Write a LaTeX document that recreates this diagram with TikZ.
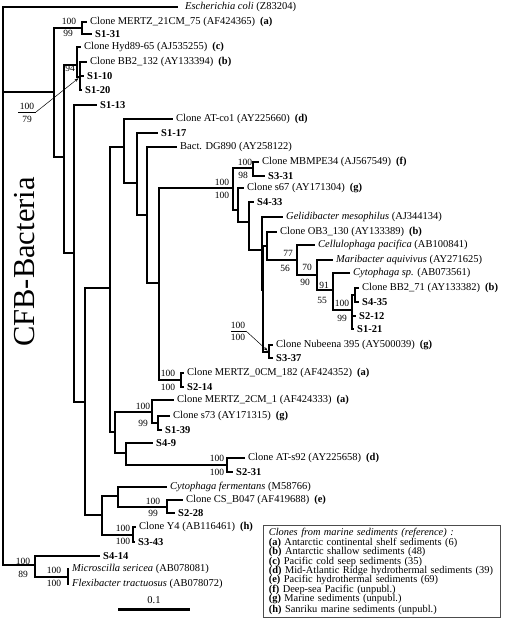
\documentclass[tikz,border=0pt]{standalone}
\usepackage{fontspec}
\setmainfont{Liberation Serif}
\usetikzlibrary{arrows.meta}

\newcommand{\srctag}[1]{\hspace{5pt}\textbf{(#1)}}

\begin{document}
\begin{tikzpicture}[
  x=1pt, y=-1pt,
  every node/.style={font=\fontsize{10.5}{12}\selectfont},
  br/.style={line width=1.25pt},
  leaf/.style={anchor=west, inner sep=3pt},
  smp/.style={leaf, font=\fontsize{10.5}{12}\selectfont\bfseries},
  bs/.style={inner sep=0pt, font=\fontsize{9.5}{10}\selectfont},
  ptr/.style={-{Stealth[length=4pt,width=3pt]}, line width=0.5pt, shorten >=2pt},
  legend/.style={draw=black!70, line width=0.8pt, anchor=north west, align=left,
    text width=226pt, minimum height=92pt, inner xsep=5.5pt, inner ysep=2pt,
    font=\fontsize{10.4}{9.4}\selectfont}
]
\useasboundingbox (0,0) rectangle (504,624);

% leaves
\node[leaf] (ecoli) at (178,7) {\hspace{4pt}\textit{Escherichia coli} (Z83204)};
\node[leaf] (mertz21) at (87,22) {Clone MERTZ\_21CM\_75 (AF424365)\srctag{a}};
\node[smp] (s131) at (92,34) {S1-31};
\node[leaf] (hyd) at (81,47) {Clone Hyd89-65 (AJ535255)\srctag{c}};
\node[leaf] (bb2132) at (87,62) {Clone BB2\_132 (AY133394)\srctag{b}};
\node[smp] (s110) at (84,76) {S1-10};
\node[smp] (s120) at (82,90) {S1-20};
\node[smp] (s113) at (97,105) {S1-13};
\node[leaf] (atco1) at (173,119) {Clone AT-co1 (AY225660)\srctag{d}};
\node[smp] (s117) at (158,133) {S1-17};
\node[leaf] (dg890) at (177,147) {Bact. DG890 (AY258122)};
\node[leaf] (mbmpe) at (259,162) {Clone MBMPE34 (AJ567549)\srctag{f}};
\node[smp] (s331) at (265,176) {S3-31};
\node[leaf] (s67) at (244,188) {Clone s67 (AY171304)\srctag{g}};
\node[smp] (s433) at (254,202) {S4-33};
\node[leaf] (gelid) at (283,217) {\textit{Gelidibacter mesophilus} (AJ344134)};
\node[leaf] (ob3) at (277,232) {Clone OB3\_130 (AY133389)\srctag{b}};
\node[leaf] (cellu) at (315,245) {\textit{Cellulophaga pacifica} (AB100841)};
\node[leaf] (mari) at (333,260) {\textit{Maribacter aquivivus} (AY271625)};
\node[leaf] (cytsp) at (350,273) {\textit{Cytophaga sp.} (AB073561)};
\node[leaf] (bb271) at (359,288) {Clone BB2\_71 (AY133382)\srctag{b}};
\node[smp] (s435) at (359,302) {S4-35};
\node[smp] (s212) at (356,316) {S2-12};
\node[smp] (s121) at (354,329) {S1-21};
\node[leaf] (nubeena) at (273,345) {Clone Nubeena 395 (AY500039)\srctag{g}};
\node[smp] (s337) at (273,358) {S3-37};
\node[leaf] (mertz0) at (184,373) {Clone MERTZ\_0CM\_182 (AF424352)\srctag{a}};
\node[smp] (s214) at (184,387) {S2-14};
\node[leaf] (mertz2) at (174,400) {Clone MERTZ\_2CM\_1 (AF424333)\srctag{a}};
\node[leaf] (s73) at (170,416) {Clone s73 (AY171315)\srctag{g}};
\node[smp] (s139) at (162,430) {S1-39};
\node[smp] (s49) at (153,443) {S4-9};
\node[leaf] (ats92) at (245,458) {Clone AT-s92 (AY225658)\srctag{d}};
\node[smp] (s231) at (233,472) {S2-31};
\node[leaf] (cferm) at (167,487) {\textit{Cytophaga fermentans} (M58766)};
\node[leaf] (csb) at (183,500) {Clone CS\_B047 (AF419688)\srctag{e}};
\node[smp] (s228) at (175,513) {S2-28};
\node[leaf] (y4) at (136,527) {Clone Y4 (AB116461)\srctag{h}};
\node[smp] (s343) at (135,542) {S3-43};
\node[smp] (s414) at (100,556) {S4-14};
\node[leaf] (micro) at (69,569) {\textit{Microscilla sericea} (AB078081)};
\node[leaf] (flexi) at (69,584) {\textit{Flexibacter tractuosus} (AB078072)};

% inner nodes
\coordinate (root) at (3,286);
\coordinate (cfb) at (54,92);
\coordinate (m21) at (82,28);
\coordinate (nd) at (64,157);
\coordinate (n94) at (77,65);
\coordinate (nsub) at (80,77);
\coordinate (na) at (74,253);
\coordinate (nb) at (85,402);
\coordinate (nx) at (110,288);
\coordinate (nr) at (124,147);
\coordinate (ns) at (137,183);
\coordinate (nt) at (147,215);
\coordinate (np) at (159,283);
\coordinate (nq) at (233,188);
\coordinate (nmb) at (253,168);
\coordinate (nz) at (238,210);
\coordinate (nz2) at (249,222);
\coordinate (nz3) at (262,250);
\coordinate (nz4) at (263,290);
\coordinate (no) at (267,246);
\coordinate (nc1) at (297,260);
\coordinate (nc2) at (317,275);
\coordinate (nc3) at (333,290);
\coordinate (nbb) at (352,310);
\coordinate (nbs) at (355,295);
\coordinate (nnub) at (269,352);
\coordinate (n0) at (181,380);
\coordinate (nu) at (115,432);
\coordinate (nv) at (152,412);
\coordinate (nw) at (158,423);
\coordinate (nw2) at (126,453);
\coordinate (nat) at (227,465);
\coordinate (ny) at (102,515);
\coordinate (nf) at (118,496);
\coordinate (ncs) at (167,507);
\coordinate (ny4) at (133,535);
\coordinate (nbot) at (35,565);
\coordinate (nmic) at (68,577);

% branches
\draw[br] (root) |- (ecoli.west) (root) |- (cfb) (root) |- (nbot);
\draw[br] (cfb) |- (m21) (cfb) |- (nd);
\draw[br] (m21) |- (mertz21.west) (m21) |- (s131.west);
\draw[br] (nd) |- (n94) (nd) |- (na);
\draw[br] (n94) |- (hyd.west) (n94) |- (nsub);
\draw[br] (nsub) |- (bb2132.west) (nsub) |- (s110.west) (nsub) |- (s120.west);
\draw[br] (na) |- (s113.west) (na) |- (nb);
\draw[br] (nb) |- (nx) (nb) |- (ny);
\draw[br] (nx) |- (nr) (nx) |- (nu);
\draw[br] (nr) |- (atco1.west) (nr) |- (ns);
\draw[br] (ns) |- (s117.west) (ns) |- (nt);
\draw[br] (nt) |- (dg890.west) (nt) |- (np);
\draw[br] (np) |- (nq) (np) |- (n0);
\draw[br] (nq) |- (nmb) (nq) |- (nz);
\draw[br] (nmb) |- (mbmpe.west) (nmb) |- (s331.west);
\draw[br] (nz) |- (s67.west) (nz) |- (nz2);
\draw[br] (nz2) |- (s433.west) (nz2) |- (nz3);
\draw[br] (nz3) |- (gelid.west) (nz3) |- (nz4);
\draw[br] (nz4) |- (no) (nz4) |- (nnub);
\draw[br] (no) |- (ob3.west) (no) |- (nc1);
\draw[br] (nc1) |- (cellu.west) (nc1) |- (nc2);
\draw[br] (nc2) |- (mari.west) (nc2) |- (nc3);
\draw[br] (nc3) |- (cytsp.west) (nc3) |- (nbb);
\draw[br] (nbb) |- (nbs) (nbb) |- (s212.west) (nbb) |- (s121.west);
\draw[br] (nbs) |- (bb271.west) (nbs) |- (s435.west);
\draw[br] (nnub) |- (nubeena.west) (nnub) |- (s337.west);
\draw[br] (n0) |- (mertz0.west) (n0) |- (s214.west);
\draw[br] (nu) |- (nv) (nu) |- (nw2);
\draw[br] (nv) |- (mertz2.west) (nv) |- (nw);
\draw[br] (nw) |- (s73.west) (nw) |- (s139.west);
\draw[br] (nw2) |- (s49.west) (nw2) |- (nat);
\draw[br] (nat) |- (ats92.west) (nat) |- (s231.west);
\draw[br] (ny) |- (nf) (ny) |- (ny4);
\draw[br] (nf) |- (cferm.west) (nf) |- (ncs);
\draw[br] (ncs) |- (csb.west) (ncs) |- (s228.west);
\draw[br] (ny4) |- (y4.west) (ny4) |- (s343.west);
\draw[br] (nbot) |- (s414.west) (nbot) |- (nmic);
\draw[br] (nmic) |- (micro.west) (nmic) |- (flexi.west);

% bootstrap values
\node[bs] at (69,21) {100};  \node[bs] at (68,33) {99};
\node[bs] at (70,68) {94};
\node[bs] (f1a) at (27,106) {100};
\node[bs] (f1b) at (27,119) {79};
\coordinate (f1r) at (36,112);
\draw[line width=0.5pt] (18,112) -- (f1r);
\draw[ptr] (f1r) -- (nsub);
\node[bs] at (222,182) {100}; \node[bs] at (222,195) {100};
\node[bs] at (245,162) {100}; \node[bs] at (243,175) {98};
\node[bs] at (288,253) {77};  \node[bs] at (285,268) {56};
\node[bs] at (307,267) {70};  \node[bs] at (305,282) {90};
\node[bs] at (324,285) {91};  \node[bs] at (322,300) {55};
\node[bs] at (342,303) {100}; \node[bs] at (342,318) {99};
\node[bs] (f2a) at (238,325) {100};
\node[bs] (f2b) at (238,337) {100};
\coordinate (f2r) at (246,331);
\draw[line width=0.5pt] (231,331) -- (f2r);
\draw[ptr] (f2r) -- (nnub);
\node[bs] at (168,373) {100}; \node[bs] at (168,387) {100};
\node[bs] at (143,406) {100}; \node[bs] at (143,423) {99};
\node[bs] at (217,458) {100}; \node[bs] at (217,472) {100};
\node[bs] at (153,501) {100}; \node[bs] at (153,513) {99};
\node[bs] at (123,528) {100}; \node[bs] at (123,541) {100};
\node[bs] at (23,561) {100};  \node[bs] at (23,574) {89};
\node[bs] at (54,570) {100};  \node[bs] at (54,583) {100};

% group name
\node[rotate=90, inner sep=0pt, font=\fontsize{30.5}{32}\selectfont] (cfbname) at (25,262) {CFB-Bacteria};

% scale bar
\coordinate (sbl) at (118,609);
\coordinate (sbr) at (190,609);
\draw[line width=3pt] (sbl) -- (sbr);
\node[bs, font=\fontsize{10.5}{12}\selectfont] (sbtext) at (154,600) {0.1};

% legend
\node[legend] (key) at (263,525) {\lineskiplimit=-6pt\relax
\textit{Clones from marine sediments (reference) :}\\
\textbf{(a)} Antarctic continental shelf sediments (6)\\
\textbf{(b)} Antarctic shallow sediments (48)\\
\textbf{(c)} Pacific cold seep sediments (35)\\
\textbf{(d)} Mid-Atlantic Ridge hydrothermal sediments (39)\\
\textbf{(e)} Pacific hydrothermal sediments (69)\\
\textbf{(f)} Deep-sea Pacific (unpubl.)\\
\textbf{(g)} Marine sediments (unpubl.)\\
\textbf{(h)} Sanriku marine sediments (unpubl.)};
\end{tikzpicture}
\end{document}
